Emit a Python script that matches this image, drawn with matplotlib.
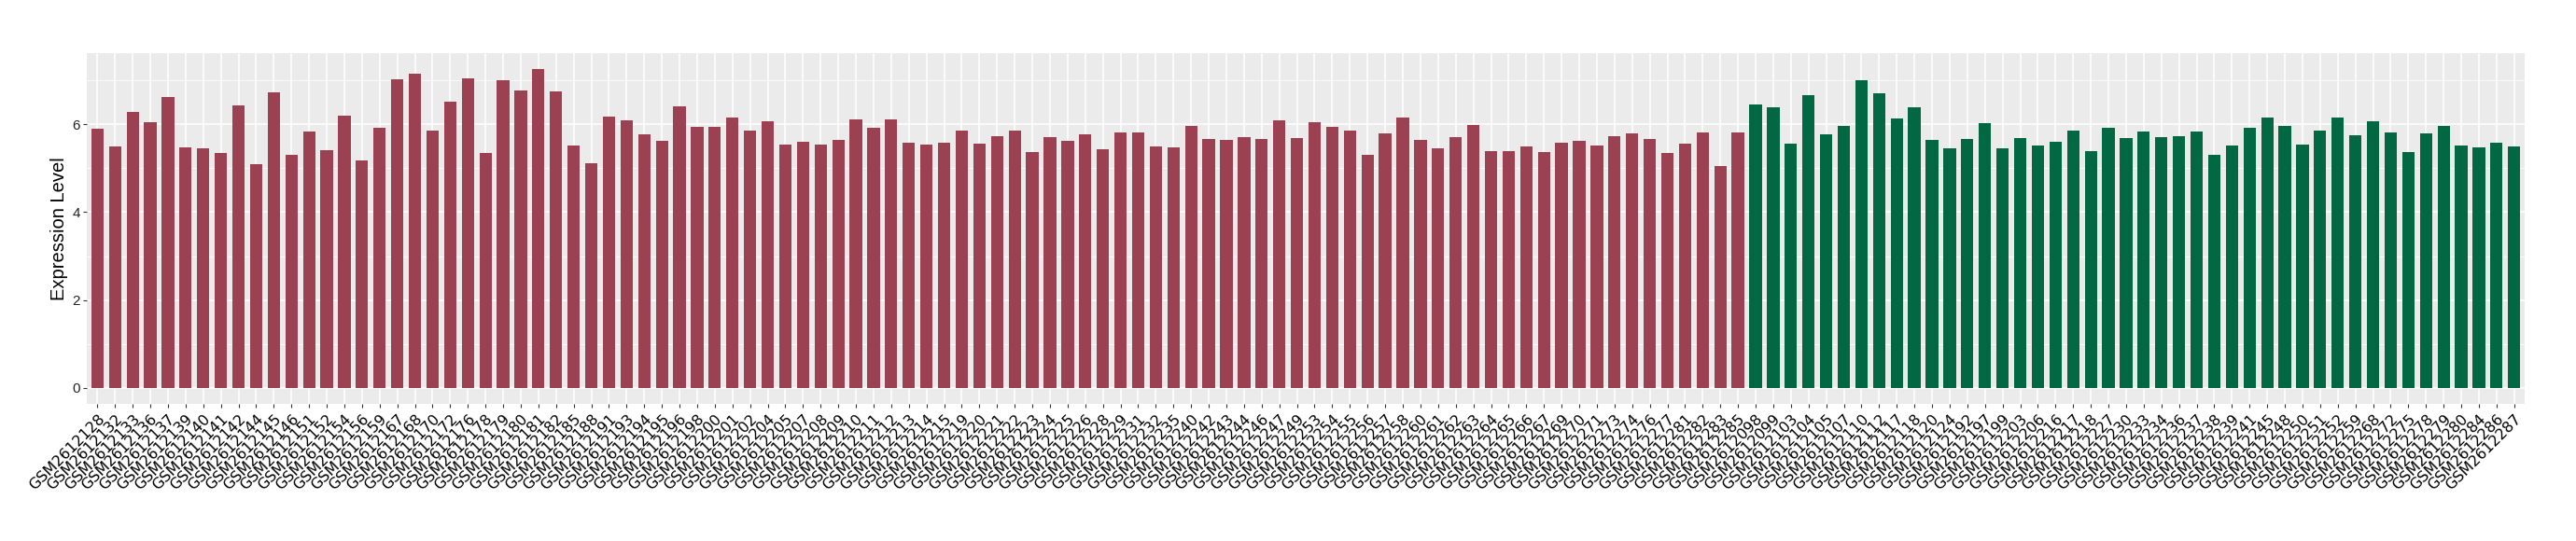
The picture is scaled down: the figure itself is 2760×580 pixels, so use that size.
import matplotlib.pyplot as plt
from matplotlib.ticker import MultipleLocator

# sample ids and expression values
red_samples = ["GSM2612128", "GSM2612132", "GSM2612133", "GSM2612136", "GSM2612137", "GSM2612139",
               "GSM2612140", "GSM2612141", "GSM2612142", "GSM2612144", "GSM2612145", "GSM2612146",
               "GSM2612151", "GSM2612152", "GSM2612154", "GSM2612156", "GSM2612159", "GSM2612167",
               "GSM2612168", "GSM2612170", "GSM2612172", "GSM2612176", "GSM2612178", "GSM2612179",
               "GSM2612180", "GSM2612181", "GSM2612182", "GSM2612185", "GSM2612188", "GSM2612191",
               "GSM2612193", "GSM2612194", "GSM2612195", "GSM2612196", "GSM2612198", "GSM2612200",
               "GSM2612201", "GSM2612202", "GSM2612204", "GSM2612205", "GSM2612207", "GSM2612208",
               "GSM2612209", "GSM2612210", "GSM2612211", "GSM2612212", "GSM2612213", "GSM2612214",
               "GSM2612215", "GSM2612219", "GSM2612220", "GSM2612221", "GSM2612222", "GSM2612223",
               "GSM2612224", "GSM2612225", "GSM2612226", "GSM2612228", "GSM2612229", "GSM2612231",
               "GSM2612232", "GSM2612235", "GSM2612240", "GSM2612242", "GSM2612243", "GSM2612244",
               "GSM2612246", "GSM2612247", "GSM2612249", "GSM2612253", "GSM2612254", "GSM2612255",
               "GSM2612256", "GSM2612257", "GSM2612258", "GSM2612260", "GSM2612261", "GSM2612262",
               "GSM2612263", "GSM2612264", "GSM2612265", "GSM2612266", "GSM2612267", "GSM2612269",
               "GSM2612270", "GSM2612271", "GSM2612273", "GSM2612274", "GSM2612276", "GSM2612277",
               "GSM2612281", "GSM2612282", "GSM2612283", "GSM2612285"]
red_values = [5.90, 5.50, 6.28, 6.05, 6.62, 5.48, 5.46, 5.35, 6.43, 5.10,
              6.73, 5.31, 5.84, 5.41, 6.20, 5.18, 5.92, 7.02, 7.15, 5.86,
              6.52, 7.04, 5.35, 7.00, 6.77, 7.26, 6.75, 5.52, 5.12, 6.18,
              6.09, 5.77, 5.63, 6.41, 5.94, 5.94, 6.16, 5.86, 6.07, 5.54,
              5.60, 5.54, 5.65, 6.11, 5.92, 6.11, 5.58, 5.54, 5.58, 5.86,
              5.56, 5.73, 5.86, 5.37, 5.71, 5.63, 5.77, 5.44, 5.82, 5.82,
              5.50, 5.48, 5.96, 5.67, 5.65, 5.71, 5.67, 6.09, 5.69, 6.05,
              5.94, 5.86, 5.31, 5.80, 6.16, 5.65, 5.46, 5.71, 5.99, 5.39,
              5.39, 5.50, 5.37, 5.58, 5.63, 5.52, 5.73, 5.80, 5.67, 5.35,
              5.56, 5.82, 5.05, 5.82]

green_samples = ["GSM2612098", "GSM2612099", "GSM2612103", "GSM2612104", "GSM2612105", "GSM2612107",
                 "GSM2612110", "GSM2612112", "GSM2612117", "GSM2612118", "GSM2612120", "GSM2612124",
                 "GSM2612192", "GSM2612197", "GSM2612199", "GSM2612203", "GSM2612206", "GSM2612216",
                 "GSM2612217", "GSM2612218", "GSM2612227", "GSM2612230", "GSM2612233", "GSM2612234",
                 "GSM2612236", "GSM2612237", "GSM2612238", "GSM2612239", "GSM2612241", "GSM2612245",
                 "GSM2612248", "GSM2612250", "GSM2612251", "GSM2612252", "GSM2612259", "GSM2612268",
                 "GSM2612272", "GSM2612275", "GSM2612278", "GSM2612279", "GSM2612280", "GSM2612284",
                 "GSM2612286", "GSM2612287"]
green_values = [6.45, 6.39, 5.56, 6.66, 5.77, 5.96, 7.00, 6.71, 6.13, 6.39,
                5.65, 5.46, 5.67, 6.03, 5.46, 5.69, 5.52, 5.60, 5.86, 5.39,
                5.92, 5.69, 5.84, 5.71, 5.73, 5.84, 5.31, 5.52, 5.92, 6.16,
                5.96, 5.54, 5.86, 6.16, 5.75, 6.07, 5.82, 5.37, 5.80, 5.96,
                5.52, 5.48, 5.58, 5.50]

red_col = '#9B4151'
green_col = '#026743'

samples = red_samples + green_samples
values = red_values + green_values
colors = [red_col] * len(red_samples) + [green_col] * len(green_samples)

fig = plt.figure(figsize=(27.6, 5.8), dpi=100)
ax = fig.add_axes([0.0337, 0.2534, 0.9464, 0.6488])

ax.set_facecolor('#EBEBEB')
ax.bar(samples, values, width=0.7, color=colors, zorder=3)

ymax = max(values)
ax.set_ylim(-0.05 * ymax, 1.05 * ymax)
ax.set_xlim(-0.6, len(samples) - 0.4)

ax.yaxis.set_major_locator(MultipleLocator(2))
ax.yaxis.set_minor_locator(MultipleLocator(1))
ax.grid(which='major', color='white', linewidth=1.1, zorder=0)
ax.grid(which='minor', axis='y', color='white', linewidth=0.55, zorder=0)
ax.set_axisbelow(True)

for s in ax.spines.values():
    s.set_visible(False)

ax.tick_params(axis='both', which='major', length=3, width=0.8, color='#333333')
ax.tick_params(axis='y', which='minor', length=0)
ax.tick_params(axis='x', pad=3)
ax.tick_params(axis='y', pad=2)

for lab in ax.get_yticklabels():
    lab.set_fontfamily('Liberation Sans')
    lab.set_fontsize(11)
    lab.set_color('#222222')

for lab in ax.get_xticklabels():
    lab.set_rotation(45)
    lab.set_ha('right')
    lab.set_va('top')
    lab.set_rotation_mode('anchor')
    lab.set_fontsize(11.5)
    lab.set_color('black')

ax.set_ylabel('Expression Level', fontsize=14.5, family='Liberation Sans', labelpad=3)

fig.savefig('out.png', dpi=100)
